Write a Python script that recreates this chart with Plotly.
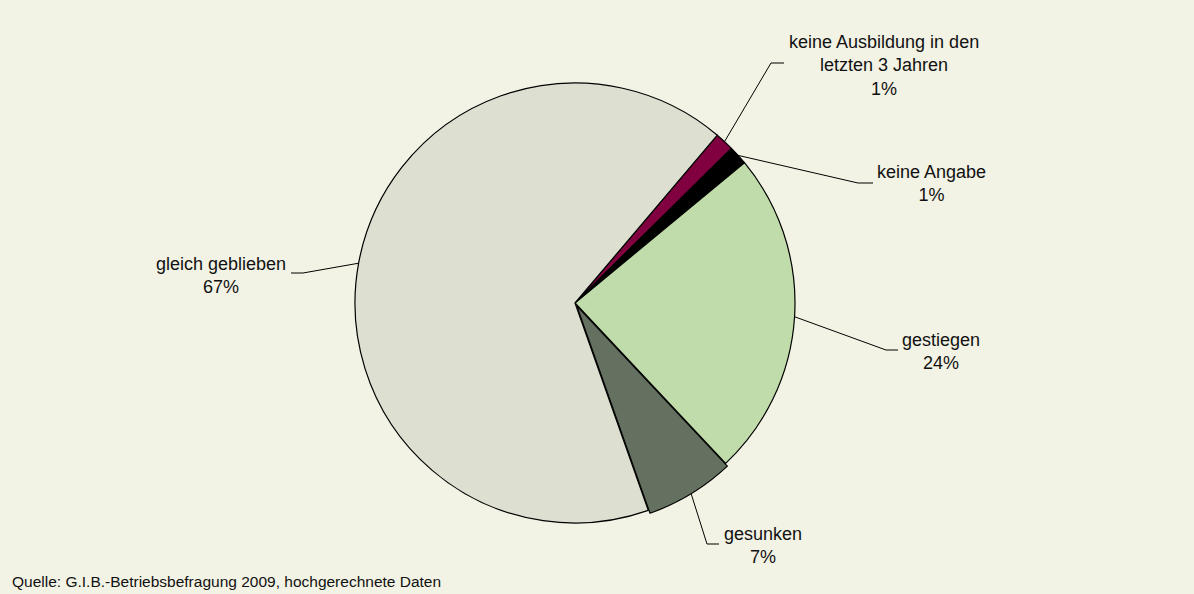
import math
import plotly.graph_objects as go

# ---- data ----
categories = ["keine Ausbildung in den letzten 3 Jahren", "keine Angabe", "gestiegen", "gesunken", "gleich geblieben"]
label_lines = ["keine Ausbildung in den<br>letzten 3 Jahren", "keine Angabe", "gestiegen", "gesunken", "gleich geblieben"]
values = [1.4, 1.4, 24.0, 6.6, 66.6]
source_text = "Quelle: G.I.B.-Betriebsbefragung 2009, hochgerechnete Daten"

# ---- style / layout ----
colors = ["#800040", "#000000", "#C0DCAA", "#647060", "#DDE0D1"]
pulls = [0, 0, 0, 0.015, 0]
W, H = 1194, 594
cx, cy, R = 575, 303, 220
start_deg = 40.3
bg = "#F3F3E5"
font_family = "Liberation Sans, Arial, sans-serif"

# label centres (px) and leader elbow / end points (px)
label_pos = [(884, 65), (931, 184), (941, 351), (763, 545), (221, 275)]
leader_pts = [((771, 63), (784, 63)),
              ((858, 183), (873, 183)),
              ((886, 350), (898, 350)),
              ((707, 544), (719, 544)),
              ((303, 273), (291, 273))]

half = R * (1 + max(pulls))
dom_x = [(cx - half) / W, (cx + half) / W]
dom_y = [1 - (cy + half) / H, 1 - (cy - half) / H]

fig = go.Figure(go.Pie(
    labels=categories, values=values, sort=False, direction="clockwise",
    rotation=start_deg, pull=pulls, textinfo="none", hoverinfo="label+percent",
    marker=dict(colors=colors, line=dict(color="#000000", width=1.2)),
    domain=dict(x=dom_x, y=dom_y), showlegend=False,
))

def px2paper(x, y):
    return x / W, 1 - y / H

total = sum(values)
cum = 0.0
shapes = []
annotations = []
for i, v in enumerate(values):
    mid = start_deg + (cum + v / 2) / total * 360
    cum += v
    a = math.radians(mid)
    r_edge = R * (1 + pulls[i])
    ex, ey = cx + r_edge * math.sin(a), cy - r_edge * math.cos(a)
    (bx, by), (tx, ty) = leader_pts[i]
    p0 = px2paper(ex, ey); p1 = px2paper(bx, by); p2 = px2paper(tx, ty)
    shapes.append(dict(type="path", xref="paper", yref="paper",
                       path=f"M {p0[0]},{p0[1]} L {p1[0]},{p1[1]} L {p2[0]},{p2[1]}",
                       line=dict(color="#000000", width=1)))
    pct = round(v / total * 100)
    lx, ly = px2paper(*label_pos[i])
    annotations.append(dict(x=lx, y=ly, xref="paper", yref="paper", showarrow=False,
                            text=f"{label_lines[i]}<br>{pct}%", align="center",
                            xanchor="center", yanchor="middle",
                            font=dict(size=18, color="#111111", family=font_family)))

sx, sy = px2paper(10, 581)
annotations.append(dict(x=sx, y=sy, xref="paper", yref="paper", showarrow=False,
                        text=source_text, xanchor="left", yanchor="middle",
                        font=dict(size=15.5, color="#111111", family=font_family)))

fig.update_layout(width=W, height=H, margin=dict(l=0, r=0, t=0, b=0),
                  paper_bgcolor=bg, plot_bgcolor=bg,
                  shapes=shapes, annotations=annotations)
fig.write_html("out.html", config={"displayModeBar": False},
               post_script="document.body.style.margin='0';document.body.style.overflow='hidden';document.body.style.background='%s';" % bg)
